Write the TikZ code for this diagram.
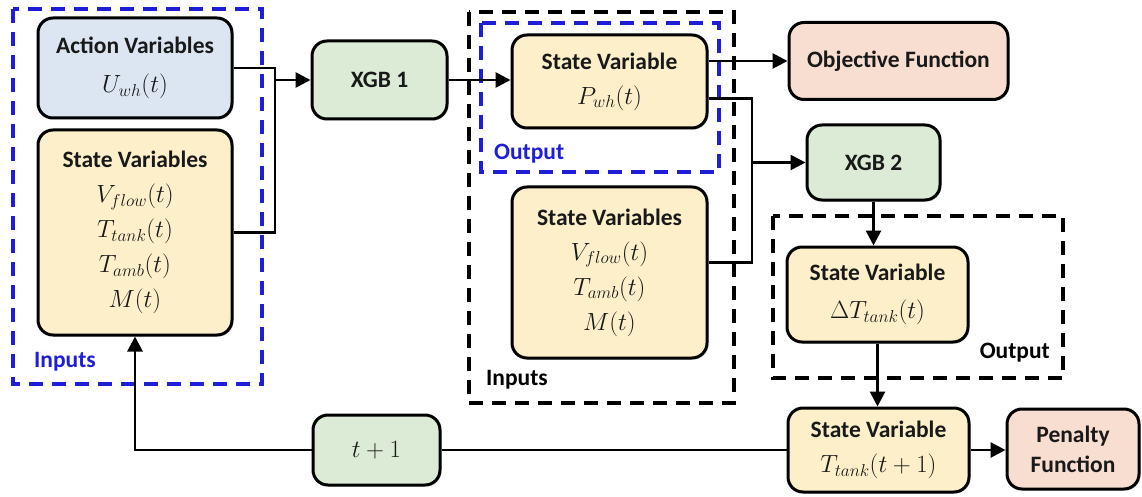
\documentclass[tikz,border=0pt]{standalone}
\usepackage[no-math]{fontspec}
\setmainfont{Carlito}
\usetikzlibrary{arrows.meta,shadows,calc}
\definecolor{actfill}{HTML}{DCE6F2}
\definecolor{statefill}{HTML}{FCEFC9}
\definecolor{xgbfill}{HTML}{DCEBD5}
\definecolor{funfill}{HTML}{F8DDD1}
\definecolor{dashblue}{HTML}{1E1ED8}
\newcommand{\mth}[1]{{\fontsize{26}{36}\selectfont$#1$}}
\begin{document}
\begin{tikzpicture}[x=1pt,y=-1pt,
  box/.style={draw=black, line width=3pt, rounded corners=15pt, align=center,
    inner sep=0pt, font=\fontsize{23.5}{35}\selectfont\bfseries, text=black!90,
    drop shadow={shadow xshift=1.5pt, shadow yshift=-1.5pt, opacity=0.3}},
  actbox/.style={box, fill=actfill},
  statebox/.style={box, fill=statefill},
  xgbbox/.style={box, fill=xgbfill},
  funbox/.style={box, fill=funfill},
  conn/.style={line width=2.8pt},
  arr/.style={conn, -{Triangle[length=15pt,width=15pt]}},
  bluedash/.style={draw=dashblue, line width=3.2pt, dash pattern=on 14pt off 9pt},
  blackdash/.style={draw=black, line width=3.2pt, dash pattern=on 14pt off 9pt},
  tag/.style={font=\fontsize{23.5}{26}\selectfont\bfseries, inner sep=0pt}]
\useasboundingbox (0,0) rectangle (1142,497);

% grouping frames
\draw[bluedash] (13,9) rectangle (262,384);
\draw[blackdash] (469,12) rectangle (734,403);
\draw[bluedash] (481,23) rectangle (719,172);
\draw[blackdash] (773,216) rectangle (1063,378);
\node[tag, text=dashblue, anchor=west] (inA) at (34,362) {Inputs};
\node[tag, text=dashblue, anchor=west] (outA) at (494,154) {Output};
\node[tag, anchor=west] (inB) at (486,380) {Inputs};
\node[tag, anchor=east] (outB) at (1050,353) {Output};

% blocks
\node[actbox, minimum width=194pt, minimum height=100pt] (act) at (135,68)
  {Action Variables\\[4pt] \mth{U_{wh}(t)}};
\node[statebox, minimum width=194pt, minimum height=205pt] (sv1) at (135,232.5)
  {State Variables\\ \mth{V_{flow}(t)}\\ \mth{T_{tank}(t)}\\ \mth{T_{amb}(t)}\\ \mth{M(t)}};
\node[xgbbox, minimum width=135pt, minimum height=78pt] (xgb1) at (379.5,80) {XGB 1};
\node[statebox, minimum width=195pt, minimum height=93pt] (pwh) at (609.5,81.5)
  {State Variable\\ \mth{P_{wh}(t)}};
\node[statebox, minimum width=195pt, minimum height=171pt] (sv2) at (609.5,272.5)
  {State Variables\\ \mth{V_{flow}(t)}\\ \mth{T_{amb}(t)}\\ \mth{M(t)}};
\node[funbox, minimum width=219pt, minimum height=77pt] (obj) at (898.5,61) {Objective Function};
\node[xgbbox, minimum width=133pt, minimum height=75pt] (xgb2) at (873.5,162.5) {XGB 2};
\node[statebox, minimum width=181pt, minimum height=95pt] (dT) at (877.5,294.5)
  {State Variable\\[3pt] \mth{\Delta T_{tank}(t)}};
\node[statebox, minimum width=181pt, minimum height=84pt] (Tn) at (878.5,450)
  {State Variable\\ \mth{T_{tank}(t+1)}};
\node[funbox, minimum width=132pt, minimum height=80pt, font=\fontsize{23.5}{30}\selectfont\bfseries] (pen) at (1073,449)
  {Penalty\\ Function};
\node[xgbbox, minimum width=127pt, minimum height=70pt, font=\fontsize{22}{26}\selectfont] (t1) at (376.5,450)
  {\mth{t+1}};

% bus points
\coordinate (bus1) at (275,0);
\coordinate (bus2) at (752,0);
\coordinate (pout) at ([yshift=-17pt]pwh.east);
\coordinate (sout) at ([yshift=10pt]sv2.east);

% connectors
\draw[conn] (act.east) -| (bus1 |- sv1.east) -- (sv1.east);
\draw[arr] (bus1 |- xgb1.west) -- (xgb1.west);
\draw[arr] (xgb1.east) -- (xgb1.east -| pwh.west);
\draw[arr] (pwh.east |- obj.west) -- (obj.west);
\draw[conn] (pout) -| (bus2 |- sout) -- (sout);
\draw[arr] (bus2 |- xgb2.west) -- (xgb2.west);
\draw[arr] (xgb2.south) -- (xgb2.south |- dT.north);
\draw[arr] (dT.south) -- (dT.south |- Tn.north);
\draw[arr] (Tn.east) -- (Tn.east -| pen.west);
\draw[conn] (Tn.west) -- (t1.east);
\draw[arr] (t1.west) -| (sv1.south);
\end{tikzpicture}
\end{document}
